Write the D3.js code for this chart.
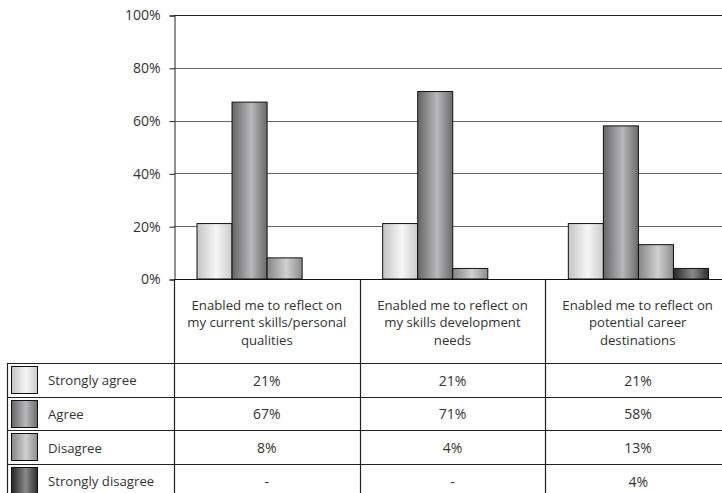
<!DOCTYPE html>
<html>
<head>
<meta charset="utf-8">
<script src="https://cdn.jsdelivr.net/npm/d3@7"></script>
<style>
  body { margin: 0; background: #fff; }
  text { font-family: "Open Sans", sans-serif; fill: #333; }
</style>
</head>
<body>
<svg id="chart" width="722" height="493"></svg>
<script>
// categories (header cell lines)
var categories = [
  ["Enabled me to reflect on", "my current skills/personal", "qualities"],
  ["Enabled me to reflect on", "my skills development", "needs"],
  ["Enabled me to reflect on", "potential career", "destinations"]
];
var series = ["Strongly agree", "Agree", "Disagree", "Strongly disagree"];

// values in %, null shown as "-"
var stronglyAgree = [21, 21, 21];
var agree = [67, 71, 58];
var disagree = [8, 4, 13];
var stronglyDisagree = [null, null, 4];

var yTicks = [0, 20, 40, 60, 80, 100];

var seriesValues = [stronglyAgree, agree, disagree, stronglyDisagree];

// gradient stops per series: edge, highlight, edge
var shades = [
  ["#c4c4c4", "#f6f6f6", "#cbcbcb"],
  ["#656565", "#b8b8bb", "#6a6a6a"],
  ["#858585", "#d0d0d0", "#8c8c8c"],
  ["#262626", "#8a8a8a", "#2e2e2e"]
];

var svg = d3.select("#chart");
var width = +svg.attr("width"), height = +svg.attr("height");

var plotLeft = 174, plotRight = 731, plotTop = 15, plotBottom = 279;
var rowTop = 363, rowH = 33.6, legendLeft = 7;

var defs = svg.append("defs");
shades.forEach(function(s, i) {
  var g = defs.append("linearGradient")
    .attr("id", "grad" + i)
    .attr("x1", "0%").attr("x2", "100%").attr("y1", "0%").attr("y2", "0%");
  g.append("stop").attr("offset", "0%").attr("stop-color", s[0]);
  g.append("stop").attr("offset", "55%").attr("stop-color", s[1]);
  g.append("stop").attr("offset", "100%").attr("stop-color", s[2]);
});

var y = d3.scaleLinear().domain([0, 100]).range([plotBottom, plotTop]);
var x0 = d3.scaleBand().domain(d3.range(categories.length)).range([plotLeft, plotRight]);
var x1 = d3.scaleBand().domain(d3.range(series.length))
  .range([22.5, x0.bandwidth() - 23]);

// gridlines
svg.append("g").selectAll("line")
  .data(yTicks.filter(function(d) { return d > 0; }))
  .enter().append("line")
  .attr("x1", plotLeft).attr("x2", width)
  .attr("y1", function(d) { return Math.round(y(d)) + 0.5; })
  .attr("y2", function(d) { return Math.round(y(d)) + 0.5; })
  .attr("stroke", function(d) { return d == 100 ? "#222" : "#666"; })
  .attr("stroke-width", 1.2);

// y axis
var yAxis = d3.axisLeft(y).tickValues(yTicks)
  .tickFormat(function(d) { return d + "%"; })
  .tickSize(5).tickPadding(9);
var ya = svg.append("g").attr("transform", "translate(" + (plotLeft + 0.5) + ",0.5)").call(yAxis);
ya.select(".domain").attr("stroke", "#222");
ya.selectAll(".tick line").attr("stroke", "#222");
ya.selectAll(".tick text").style("font-size", "14px").style("font-family", "'Open Sans', sans-serif").attr("fill", "#333");

// bars
var groups = svg.append("g").selectAll("g")
  .data(categories)
  .enter().append("g")
  .attr("transform", function(d, i) { return "translate(" + x0(i) + ",0)"; });

groups.selectAll("rect")
  .data(function(d, ci) {
    return seriesValues.map(function(vals, si) { return { s: si, v: vals[ci] }; })
      .filter(function(d) { return d.v != null; });
  })
  .enter().append("rect")
  .attr("x", function(d) { return x1(d.s) + 0.5; })
  .attr("width", x1.bandwidth())
  .attr("y", function(d) { return y(d.v); })
  .attr("height", function(d) { return plotBottom - y(d.v); })
  .attr("fill", function(d) { return "url(#grad" + d.s + ")"; })
  .attr("stroke", "#111")
  .attr("stroke-width", 1);

// x axis line
svg.append("line")
  .attr("x1", plotLeft).attr("x2", width)
  .attr("y1", plotBottom + 0.5).attr("y2", plotBottom + 0.5)
  .attr("stroke", "#111").attr("stroke-width", 1.2);

// table: vertical lines
var table = svg.append("g");
d3.range(categories.length).forEach(function(i) {
  var xx = Math.round(x0(i)) + 0.5;
  table.append("line")
    .attr("x1", xx).attr("x2", xx)
    .attr("y1", plotBottom).attr("y2", height)
    .attr("stroke", "#222").attr("stroke-width", 1.2);
});
table.append("line")
  .attr("x1", legendLeft + 0.5).attr("x2", legendLeft + 0.5)
  .attr("y1", rowTop).attr("y2", height)
  .attr("stroke", "#222").attr("stroke-width", 1.2);

// horizontal row lines
d3.range(series.length).forEach(function(r) {
  var yy = Math.round(rowTop + r * rowH) + 0.5;
  table.append("line")
    .attr("x1", legendLeft).attr("x2", width)
    .attr("y1", yy).attr("y2", yy)
    .attr("stroke", "#222").attr("stroke-width", 1.2);
});

// header text
groups.each(function(lines, i) {
  var cx = x0.bandwidth() / 2 + (i == 2 ? -0.5 : 0);
  var t = d3.select(this).append("text")
    .attr("text-anchor", "middle")
    .style("font-size", "13.2px");
  lines.forEach(function(l, k) {
    t.append("tspan")
      .attr("x", cx)
      .attr("y", 322.8 + (k - 1) * 17.5)
      .attr("dy", "0.35em")
      .text(l);
  });
});

// legend rows and value cells
series.forEach(function(name, r) {
  var top = rowTop + r * rowH;
  table.append("rect")
    .attr("x", 11.5).attr("y", Math.round(top) + 3.5)
    .attr("width", 26).attr("height", 27)
    .attr("fill", "url(#grad" + r + ")")
    .attr("stroke", "#111");
  table.append("text")
    .attr("x", 48).attr("y", top + rowH / 2 + 1)
    .attr("dy", "0.35em")
    .style("font-size", "13.2px")
    .text(name);
  seriesValues[r].forEach(function(v, ci) {
    table.append("text")
      .attr("x", x0(ci) + x0.bandwidth() / 2)
      .attr("y", top + rowH / 2 + 1)
      .attr("dy", "0.35em")
      .attr("text-anchor", "middle")
      .style("font-size", "14px")
      .text(v == null ? "-" : v + "%");
  });
});
</script>
</body>
</html>
